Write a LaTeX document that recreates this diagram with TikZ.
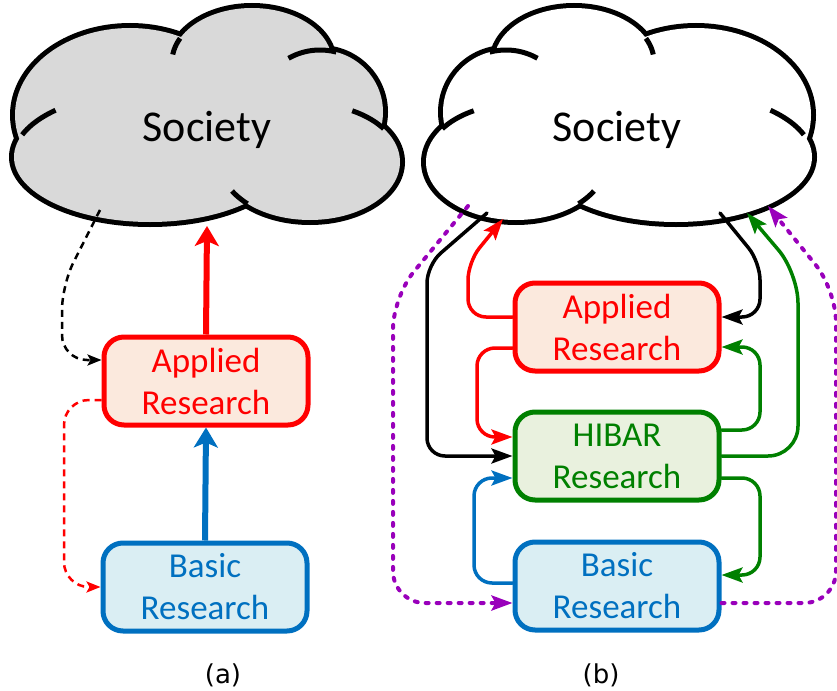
\documentclass[tikz,border=0pt]{standalone}
\usepackage{fontspec}
\setmainfont{Carlito}
\newfontfamily\capfont{DejaVu Sans}
\usetikzlibrary{arrows.meta}
\definecolor{ffqqqq}{rgb}{1,0,0}
\definecolor{qqrrcc}{RGB}{0,112,192}
\definecolor{qqccqq}{RGB}{0,128,0}
\definecolor{ccqqdd}{RGB}{153,0,187}
\definecolor{dddddd}{RGB}{217,217,217}
\definecolor{ffeedd}{RGB}{251,233,221}
\definecolor{ddeeff}{RGB}{218,238,243}
\definecolor{eeffdd}{RGB}{233,241,222}
\tikzset{
  pics/society/.style={code={
    \foreach \cx/\cy/\rx/\ry in {-77/0/115/87,45/-53/80/54,113/-3/63/62,103/47/90/58,-57/42/136/65}
      \draw[line width=10pt,fill=#1] (\cx,\cy) ellipse [x radius=\rx,y radius=\ry];
    \foreach \cx/\cy/\rx/\ry in {-77/0/115/87,45/-53/80/54,113/-3/63/62,103/47/90/58,-57/42/136/65}
      \fill[#1] (\cx,\cy) ellipse [x radius=\rx,y radius=\ry];
    % short inner arcs of the puffs
    \foreach \cx/\cy/\rx/\ry/\ta/\tb in {-57/42/136/65/200/226,45/-53/80/54/188/206,113/-3/63/62/240/285,103/47/90/58/298/325,103/47/90/58/134/150}
      \draw[line width=5pt,line cap=butt] plot[domain=\ta:\tb,samples=20] ({\cx+\rx*cos(\x)},{\cy+\ry*sin(\x)});
  }},
  box/.style={draw,rounded corners=20pt,line width=5pt,minimum width=204pt,minimum height=88pt,align=center,font=\fontsize{35}{42}\selectfont},
  appl/.style={box,draw=ffqqqq,fill=ffeedd,text=ffqqqq},
  basc/.style={box,draw=qqrrcc,fill=ddeeff,text=qqrrcc},
  hibr/.style={box,draw=qqccqq,fill=eeffdd,text=qqccqq},
  bigarr/.style={line width=6pt,line cap=butt,-{Stealth[length=20pt,width=24pt,inset=5pt]}},
  dasharr/.style={line width=2.5pt,line cap=butt,dash pattern=on 7pt off 5pt,rounded corners=25pt,-{Stealth[length=14pt,width=11pt,inset=3pt]}},
  link/.style={line width=3.5pt,rounded corners=18pt,-{Stealth[length=21pt,width=15pt,inset=4pt]}},
  dotlink/.style={link,rounded corners=32pt,line width=4pt,dash pattern=on 3pt off 8pt,color=ccqqdd}
}
\begin{document}
\begin{tikzpicture}[line cap=round,line join=round,x=1pt,y=-1pt]
\useasboundingbox (0,0) rectangle (837,690);
% (a)
\pic at (207,115) {society=dddddd};
\node[anchor=base,font=\fontsize{44}{50}\selectfont] (soc1) at (207,141) {Society};
\coordinate (sa) at (207,226);
\coordinate (da) at (100,210);
\node[appl] (ar1) at (206,381) {Applied\\Research};
\node[basc] (bs1) at (205,587) {Basic\\Research};
\draw[bigarr,ffqqqq] (ar1.north) -- (sa);
\draw[bigarr,qqrrcc] (bs1.north) -- (ar1.south);
\draw[dasharr,black] (da) -- (62,285) -- (62,360) -- ([yshift=21pt]ar1.west);
\draw[dasharr,ffqqqq] ([yshift=-19pt]ar1.west) -- (64,400) -- (64,587) -- (bs1.west);
\node[font=\capfont\fontsize{26}{30}\selectfont] (capa) at (223,675) {(a)};
% (b)
\pic[xscale=-1] at (619,115) {society=white};
\node[anchor=base,font=\fontsize{44}{50}\selectfont] (soc2) at (617,141) {Society};
\coordinate (rt) at (503,219);
\coordinate (bl) at (487,213);
\coordinate (pl) at (468,206);
\coordinate (br) at (720,213);
\coordinate (gt) at (747,213);
\coordinate (pr) at (768,206);
\node[appl] (ar2) at (617,327) {Applied\\Research};
\node[hibr] (hb) at (617,456) {HIBAR\\Research};
\node[basc] (bs2) at (617,586) {Basic\\Research};
\draw[link,ffqqqq] ([yshift=10pt]ar2.west) -- (468,317) -- (468,262) -- (rt);
\draw[link,ffqqqq] ([yshift=-21pt]ar2.west) -- (477,348) -- (477,437) -- ([yshift=19pt]hb.west);
\draw[link,black] (bl) -- (427,265) -- (427,456) -- (hb.west);
\draw[link,black] (br) -- (760,262) -- (760,317) -- ([yshift=10pt]ar2.east);
\draw[link,qqccqq] ([yshift=26pt]hb.east) -- (760,430) -- (760,347) -- ([yshift=-20pt]ar2.east);
\draw[link,qqccqq,rounded corners=30pt] (hb.east) -- (798,456) -- (798,273) -- (gt);
\draw[link,qqccqq] ([yshift=-22pt]hb.east) -- (760,478) -- (760,575) -- ([yshift=11pt]bs2.east);
\draw[link,qqrrcc] ([yshift=3pt]bs2.west) -- (474,583) -- (474,478) -- ([yshift=-22pt]hb.west);
\draw[dotlink] (pl) -- (393,297) -- (393,603) -- ([yshift=-17pt]bs2.west);
\draw[dotlink] ([yshift=-17pt]bs2.east) -- (836,603) -- (836,290) -- (pr);
\node[font=\capfont\fontsize{26}{30}\selectfont] (capb) at (601,675) {(b)};
\end{tikzpicture}
\end{document}
